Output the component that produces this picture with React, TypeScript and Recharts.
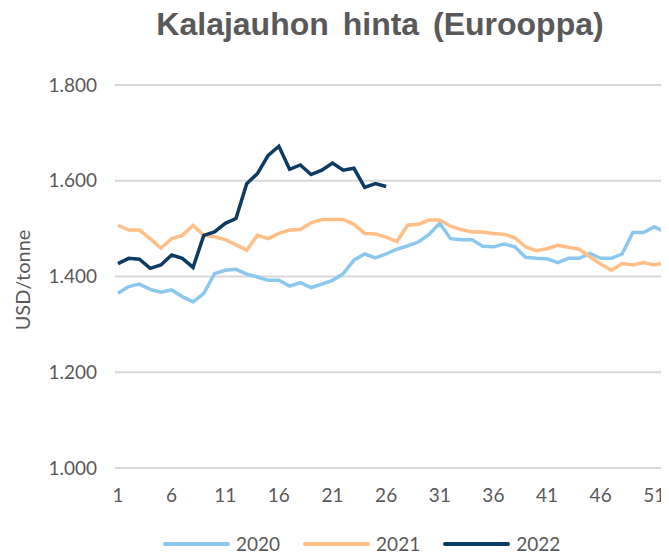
import React from 'react';
import { LineChart, Line, CartesianGrid, XAxis, YAxis } from 'recharts';

const weeks = Array.from({ length: 52 }, (_, i) => i + 1);

const price2020 = [
  1365, 1379, 1384, 1373, 1367, 1372, 1358, 1347, 1365, 1406, 1413, 1415, 1405,
  1399, 1392, 1392, 1380, 1387, 1377, 1384, 1392, 1406, 1434, 1447, 1439, 1447,
  1457, 1464, 1472, 1488, 1511, 1479, 1477, 1477, 1463, 1462, 1468, 1462, 1440,
  1438, 1437, 1429, 1438, 1438, 1448, 1438, 1438, 1447, 1492, 1492, 1504, 1493,
];

const price2021 = [
  1507, 1497, 1497, 1479, 1459, 1479, 1486, 1507, 1486, 1483, 1477, 1466, 1455,
  1486, 1479, 1490, 1497, 1498, 1512, 1519, 1519, 1519, 1509, 1490, 1489, 1482,
  1473, 1507, 1509, 1518, 1518, 1505, 1498, 1493, 1493, 1490, 1488, 1481, 1462,
  1454, 1458, 1465, 1461, 1457, 1441, 1426, 1413, 1427, 1424, 1429, 1424, 1429,
];

const price2022 = [
  1427, 1438, 1436, 1417, 1424, 1445, 1438, 1419, 1486, 1493, 1511, 1521, 1594,
  1615, 1653, 1672, 1624, 1633, 1613, 1622, 1637, 1622, 1626, 1586, 1594, 1588,
];

const xTicks = [1, 6, 11, 16, 21, 26, 31, 36, 41, 46, 51];
const yTicks = [1000, 1200, 1400, 1600, 1800];

const series = [
  { key: 'y2020', name: '2020', color: '#8cc8ee' },
  { key: 'y2021', name: '2021', color: '#ffbf86' },
  { key: 'y2022', name: '2022', color: '#0e3b63' },
];

const data = weeks.map((w, i) => ({
  week: w,
  y2020: price2020[i],
  y2021: price2021[i],
  y2022: price2022[i],
}));

const labelFont = 'Lato, "Open Sans", sans-serif';

const fmt = (v: number) => (v / 1000).toFixed(3);

export default function App() {
  return (
    <div
      style={{
        position: 'relative',
        left: -8,
        top: -8,
        width: 669,
        height: 555,
        overflow: 'hidden',
        background: '#fff',
      }}
    >
      <div
        style={{
          position: 'absolute',
          top: 6,
          left: 100,
          width: 560,
          textAlign: 'center',
          fontFamily: '"Liberation Sans", Arial, sans-serif',
          fontWeight: 'bold',
          fontSize: 32,
          color: '#595959',
          wordSpacing: 5,
        }}
      >
        Kalajauhon hinta (Eurooppa)
      </div>
      <div
        style={{
          position: 'absolute',
          left: 22,
          top: 280,
          transform: 'translate(-50%, -50%) rotate(-90deg)',
          fontFamily: labelFont,
          fontSize: 20,
          color: '#595959',
          whiteSpace: 'nowrap',
        }}
      >
        USD/tonne
      </div>
      <LineChart
        width={669}
        height={555}
        data={data}
        margin={{ top: 85, right: 0, bottom: 57, left: 0 }}
      >
        <CartesianGrid vertical={false} stroke="#d9d9d9" strokeWidth={2} />
        <XAxis
          dataKey="week"
          type="number"
          domain={[1, 52]}
          ticks={xTicks}
          interval={0}
          padding={{ left: 3, right: 4 }}
          axisLine={false}
          tickLine={false}
          tickSize={0}
          tickMargin={21}
          height={30}
          tick={{ fill: '#595959', fontSize: 19, fontFamily: labelFont }}
        />
        <YAxis
          domain={[1000, 1800]}
          ticks={yTicks}
          width={115}
          axisLine={false}
          tickLine={false}
          tickSize={0}
          tickMargin={18}
          tickFormatter={fmt}
          tick={{ fill: '#595959', fontSize: 19, fontFamily: labelFont }}
        />
        {series.map((s) => (
          <Line
            key={s.key}
            dataKey={s.key}
            name={s.name}
            stroke={s.color}
            strokeWidth={3.5}
            dot={false}
            type="linear"
            isAnimationActive={false}
          />
        ))}
      </LineChart>
      <div
        style={{
          position: 'absolute',
          top: 533,
          left: 163,
          display: 'flex',
          alignItems: 'center',
          gap: 23,
          fontFamily: labelFont,
          fontSize: 19,
          lineHeight: '21px',
          color: '#595959',
        }}
      >
        {series.map((s) => (
          <div key={s.key} style={{ display: 'flex', alignItems: 'center' }}>
            <span
              style={{
                display: 'inline-block',
                width: 67,
                height: 4,
                borderRadius: 2,
                background: s.color,
                marginRight: 6,
              }}
            />
            {s.name}
          </div>
        ))}
      </div>
    </div>
  );
}
